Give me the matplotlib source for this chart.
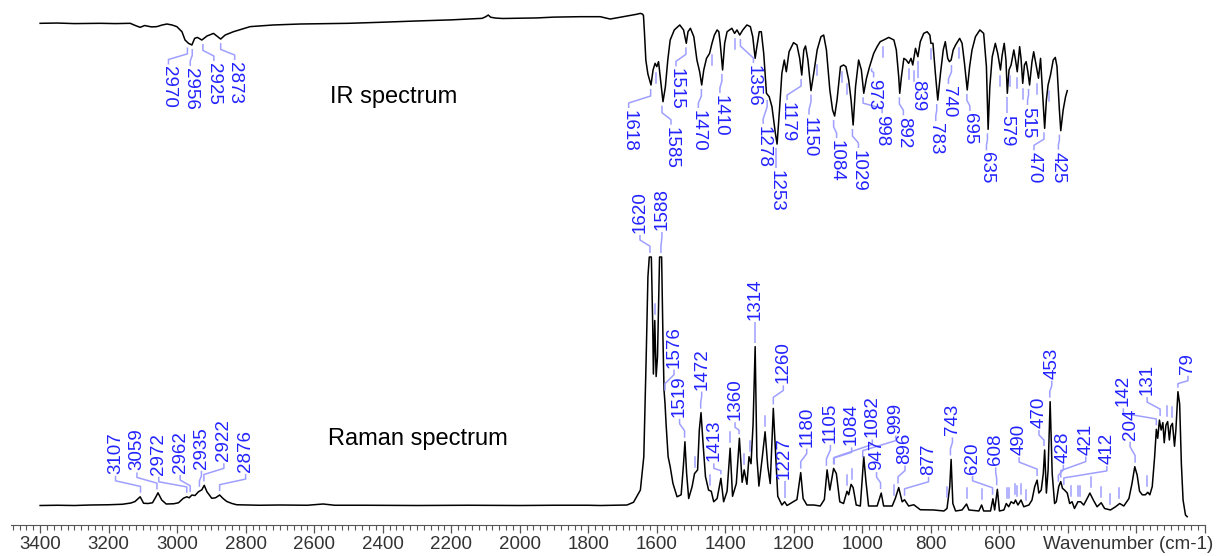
import numpy as np
import matplotlib
matplotlib.use("Agg")
import matplotlib.pyplot as plt
from matplotlib.ticker import MultipleLocator

plt.rcParams['font.family'] = ['Liberation Sans', 'DejaVu Sans']

# ---- IR spectrum (wavenumber, transmittance-like units 0..100) ----
ir_wn = [3400, 3350, 3300, 3225, 3180, 3137, 3120, 3108, 3095, 3089, 3075, 3059, 3045, 3030,
         3015, 3001, 2986, 2977, 2967, 2957, 2949, 2941, 2928, 2913, 2894, 2879, 2873, 2860,
         2836, 2787, 2719, 2641, 2500, 2400, 2300, 2200, 2150, 2110, 2100, 2092, 2085, 2070,
         2050, 1950, 1900, 1823, 1765, 1736, 1700, 1660, 1648, 1642, 1639, 1636, 1632, 1626,
         1617, 1611, 1605, 1600, 1595, 1588, 1582, 1575, 1568, 1561, 1549, 1533, 1522, 1514,
         1509, 1502, 1492, 1483, 1475, 1469, 1463, 1455, 1446, 1439, 1432, 1424, 1419, 1415,
         1408, 1402, 1395, 1381, 1373, 1366, 1358, 1349, 1337, 1327, 1320, 1313, 1308, 1301,
         1295, 1288, 1280, 1272, 1264, 1254, 1249, 1242, 1235, 1228, 1222, 1214, 1201, 1191,
         1183, 1177, 1171, 1166, 1159, 1150, 1142, 1132, 1121, 1113, 1105, 1095, 1087, 1081,
         1074, 1064, 1055, 1048, 1040, 1033, 1027, 1020, 1011, 1003, 996, 988, 979, 967,
         957, 948, 938, 923, 908, 901, 894, 891, 886, 879, 872, 865, 858, 853,
         845, 838, 831, 821, 811, 803, 800, 794, 787, 780, 772, 764, 758, 751,
         746, 741, 735, 728, 722, 716, 709, 702, 694, 687, 680, 670, 657, 646,
         638, 633, 628, 621, 612, 605, 597, 592, 586, 581, 577, 572, 566, 558,
         553, 548, 541, 537, 532, 527, 522, 517, 512, 505, 500, 492, 486, 480,
         474, 468, 463, 458, 451, 443, 437, 432, 425, 421, 414, 407, 402]
ir_t = [91.8, 92.0, 91.6, 91.8, 91.6, 91.8, 90.0, 88.9, 90.2, 89.9, 89.2, 89.4, 90.5, 91.3,
        90.6, 89.4, 85.7, 79.7, 77.3, 76.1, 80.9, 81.6, 79.7, 82.6, 84.5, 81.6, 80.4, 83.3,
        85.7, 89.4, 90.6, 91.3, 91.8, 92.6, 93.5, 94.3, 94.9, 95.4, 96.5, 97.8, 96.2, 95.6,
        95.3, 95.7, 96.3, 96.6, 96.6, 94.9, 96.5, 98.3, 99.0, 98.5, 97.5, 84.5, 65.0, 55.0,
        47.1, 58.0, 62.8, 60.4, 64.0, 48.3, 35.0, 45.9, 65.2, 79.7, 87.0, 90.6, 87.0, 77.3,
        85.7, 88.2, 82.1, 65.2, 56.7, 47.1, 58.0, 66.4, 70.0, 77.3, 83.3, 87.0, 85.7, 77.3,
        58.0, 77.3, 85.7, 88.2, 84.5, 87.0, 83.3, 87.0, 90.6, 89.4, 82.1, 66.4, 74.9, 85.7,
        85.7, 70.0, 41.1, 38.6, 31.4, 12.1, 4.3, 29.0, 55.6, 65.2, 56.7, 71.2, 77.8, 76.1,
        66.4, 54.3, 72.5, 75.4, 65.2, 43.0, 55.6, 72.5, 82.1, 83.3, 72.5, 43.5, 29.0, 24.6,
        36.2, 60.4, 61.6, 60.4, 50.7, 36.2, 18.1, 45.9, 65.2, 58.0, 41.1, 52.0, 60.4, 70.0,
        74.9, 78.5, 79.7, 81.6, 79.7, 72.5, 53.1, 41.1, 53.1, 66.4, 65.2, 62.8, 66.4, 61.6,
        73.7, 67.6, 78.5, 84.5, 85.7, 83.3, 77.3, 77.3, 55.6, 36.2, 55.6, 72.5, 78.5, 66.4,
        64.0, 65.2, 72.5, 76.1, 78.5, 80.9, 77.3, 62.8, 43.5, 60.4, 72.5, 82.1, 87.0, 84.5,
        60.4, 15.0, 45.9, 67.6, 77.3, 70.0, 58.0, 68.8, 77.3, 65.2, 41.1, 58.0, 61.6, 72.5,
        65.2, 56.7, 74.9, 66.4, 48.3, 61.6, 64.0, 56.7, 47.1, 64.0, 71.2, 60.4, 52.0, 66.4,
        41.1, 15.7, 36.2, 47.1, 54.3, 65.2, 67.1, 60.4, 29.0, 14.0, 29.0, 38.6, 43.0]

# ---- Raman spectrum (wavenumber, relative intensity 0..100) ----
raman_wn = [3400, 3350, 3300, 3254, 3200, 3160, 3135, 3123, 3108, 3098, 3085, 3072,
            3062, 3056, 3045, 3032, 3010, 2996, 2982, 2972, 2965, 2957, 2948, 2938, 2928, 2921,
            2913, 2899, 2888, 2876, 2866, 2855, 2840, 2826, 2760, 2700, 2620, 2574, 2540, 2450,
            2300, 2150, 2000, 1900, 1800, 1765, 1687, 1668, 1648, 1638, 1631, 1626, 1622, 1616,
            1612, 1610, 1606, 1602, 1598, 1592, 1586, 1582, 1579, 1576, 1573, 1567, 1561, 1553,
            1541, 1529, 1522, 1518, 1513, 1507, 1497, 1490, 1481, 1476, 1471, 1465, 1458, 1449,
            1441, 1434, 1424, 1413, 1405, 1395, 1386, 1379, 1368, 1359, 1351, 1345, 1337, 1331,
            1325, 1319, 1313, 1308, 1302, 1292, 1284, 1276, 1269, 1260, 1253, 1247, 1235, 1227,
            1220, 1191, 1180, 1173, 1162, 1142, 1123, 1111, 1103, 1095, 1084, 1076, 1066, 1055,
            1045, 1040, 1033, 1027, 1018, 1006, 996, 990, 982, 957, 945, 938, 913, 904,
            894, 884, 877, 865, 850, 831, 792, 762, 753, 745, 741, 736, 728, 709,
            696, 689, 660, 652, 646, 626, 619, 614, 606, 600, 587, 580, 573, 566,
            558, 553, 546, 537, 529, 514, 505, 497, 490, 485, 478, 472, 468, 463,
            458, 452, 446, 439, 434, 427, 421, 416, 410, 402, 395, 388, 381, 371,
            363, 354, 344, 336, 326, 315, 303, 293, 276, 261, 249, 237, 222, 213,
            205, 198, 191, 183, 174, 167, 161, 154, 147, 142, 138, 133, 128, 123,
            119, 114, 109, 104, 100, 95, 89, 85, 79, 74, 69, 64, 57, 52]
raman_i = [0.2, 0.3, 0.2, 0.4, 0.5, 0.7, 1.2, 1.8, 3.7, 1.1, 1.0, 1.3,
           3.7, 5.3, 2.4, 0.8, 0.9, 1.3, 3.1, 3.7, 3.3, 4.4, 4.2, 5.7, 6.5, 8.3,
           5.7, 3.1, 3.3, 4.4, 3.0, 1.8, 1.0, 0.5, 0.3, 0.4, 0.3, 0.8, 0.3, 0.3,
           0.2, 0.3, 0.2, 0.3, 0.3, 0.2, 0.4, 1.5, 6.4, 19.8, 60.0, 92.0, 100.0, 100.0,
           73.0, 53.0, 74.5, 52.0, 60.0, 100.0, 100.0, 66.7, 46.6, 41.0, 33.0, 19.8, 15.8, 9.1,
           3.7, 4.5, 17.0, 25.8, 13.0, 3.0, 7.8, 13.0, 14.5, 30.5, 37.5, 25.0, 11.8, 6.4,
           5.9, 1.7, 3.0, 11.1, 1.7, 5.9, 23.2, 3.9, 9.0, 27.2, 9.5, 14.5, 8.7, 19.8,
           17.0, 33.0, 64.0, 19.8, 8.0, 19.8, 29.8, 15.8, 9.0, 39.2, 19.8, 3.9, 0.4, 1.7,
           0.2, 2.6, 13.4, 3.0, 0.4, 0.4, 0.0, 2.6, 14.5, 6.4, 15.1, 13.0, 1.7, 1.0,
           5.9, 4.5, 8.7, 7.4, 0.4, 0.0, 19.8, 10.4, 0.0, 0.0, 5.2, 0.0, 0.0, 3.0,
           7.4, 1.7, 2.5, 0.0, 0.5, -1.5, -1.6, -2.0, -1.0, 7.8, 18.7, 1.0, -2.0, -1.6,
           0.8, -1.6, -2.0, 0.4, -2.0, -2.0, 2.9, -1.6, 6.7, -2.0, -1.6, 1.0, -0.3, 1.7,
           1.0, 2.4, 0.4, 2.4, -0.3, 0.4, 2.4, 7.8, 10.4, 5.2, 6.4, 13.0, 22.5, 5.2,
           14.3, 41.9, 13.0, 1.0, 1.7, 7.8, 9.8, 7.1, 6.4, 5.2, 1.0, 1.7, -1.0, 1.7,
           1.7, 0.4, 3.0, 5.2, 2.4, -0.3, 1.3, -1.0, -1.6, -0.3, 1.0, 0.0, 3.0, 9.1,
           15.8, 12.4, 5.9, 4.5, 4.5, 5.5, 4.5, 7.8, 19.8, 30.8, 27.2, 34.5, 30.5, 33.5,
           25.4, 32.5, 33.9, 26.5, 32.0, 33.2, 24.0, 30.5, 45.9, 41.0, 17.0, 2.4, -3.6, -4.3]

# ---- peak picks ----
ir_labels = [2970, 2956, 2925, 2873, 1618, 1585, 1515, 1470, 1410, 1356, 1278, 1253, 1179, 1150,
             1084, 1029, 998, 973, 892, 839, 783, 740, 695, 635, 579, 515, 470, 425]
ir_marks = [1601, 1439, 1373, 1132, 1059, 1045, 940, 865, 850, 801, 719, 597, 568, 550, 531, 490, 454]
raman_labels = [3107, 3059, 2972, 2962, 2935, 2922, 2876, 1620, 1588, 1576, 1519, 1472, 1413, 1360,
                1314, 1260, 1227, 1180, 1105, 1084, 1082, 999, 947, 896, 877, 743, 620, 608,
                490, 470, 453, 428, 421, 412, 204, 142, 131, 79]
raman_marks = [1604, 1490, 1444, 1386, 1345, 1329, 1284, 1045, 1030, 909, 753, 696, 651, 578,
               571, 555, 548, 537, 521, 390, 370, 364, 334, 303, 278, 250, 169, 110, 96]

# label layout: horizontal shift (px) and distance from curve (px)
ir_dx = [-19, -2, 11, 14, -22, 9, -10, -3, -2, 13, -4, 0, -14, -2,
         3, 6, 19, 2, 4, 0, -1, -3, 3, -1, 0, -1, -10, -1]
ir_gap = [23, 23, 23, 23, 25, 25, 25, 25, 25, 30, 30, 26, 27, 26,
          24, 25, 22, 15, 24, 23, 23, 25, 23, 23, 22, 22, 24, 21]
raman_dx = [-25, -20, -28, -10, 2, 20, 26, -10, 1, 9, -5, 1, -7, -4,
            0, 10, 0, 6, 4, 18, 38, 33, -4, 7, 24, 2, -20, -1,
            -18, -5, 2, 5, 25, 43, -5, -33, -13, 10]
raman_gap = [23, 23, 22, 23, 22, 24, 23, 24, 27, 27, 25, 23, 17, 18,
             27, 25, 23, 26, 27, 23, 31, 28, 23, 24, 25, 24, 25, 24,
             25, 22, 23, 23, 27, 25, 27, 23, 25, 18]

# ---- figure ----
W, H = 1216, 556
fig = plt.figure(figsize=(W / 100, H / 100), dpi=100)
ax = fig.add_axes([11 / W, 31 / H, 1194 / W, 525 / H])
ax.set_xlim(3485, 0)
ax.set_ylim(0, 525)          # 1 unit = 1 pixel vertically
ppu = 1194 / 3485            # pixels per wavenumber

ir_y = 375 + 1.38 * np.array(ir_t)
ra_y = 19 + 2.49 * np.array(raman_i)
ax.plot(ir_wn, ir_y, color='black', lw=1.1)
ax.plot(raman_wn, ra_y, color='black', lw=1.1)

lead_c = '#9f9fff'
lab_c = '#2222ff'


def curve_at(wn_list, y, w, sign):
    # extreme of the curve near the pick (max for Raman, min for IR)
    order = np.argsort(wn_list)
    xs = np.array(wn_list)[order]
    ys = y[order]
    half = 2 if sign > 0 else 4
    win = np.arange(w - half, w + half + 0.5, 0.5)
    vals = np.interp(win, xs, ys)
    return vals.max() if sign > 0 else vals.min()


def pick(w, y0, dx, gap, sign, text):
    xl = w - dx / ppu
    b = min(11, gap * 0.45)
    ax.plot([w, w, xl, xl],
            [y0 + sign * 4, y0 + sign * b, y0 + sign * (gap - 7), y0 + sign * (gap - 2)],
            color=lead_c, lw=1.1, solid_capstyle='butt')
    ax.text(xl, y0 + sign * gap, text, rotation=90 if sign > 0 else 270,
            ha='center', va='bottom' if sign > 0 else 'top', color=lab_c, fontsize=13.5)


for w, dx, g in zip(ir_labels, ir_dx, ir_gap):
    pick(w, curve_at(ir_wn, ir_y, w, -1), dx, g, -1, str(w))
for w in ir_marks:
    y0 = curve_at(ir_wn, ir_y, w, -1)
    ax.plot([w, w], [y0 - 6, y0 - 16], color=lead_c, lw=1.1)

for w, dx, g in zip(raman_labels, raman_dx, raman_gap):
    pick(w, curve_at(raman_wn, ra_y, w, 1), dx, g, 1, str(w))
for w in raman_marks:
    y0 = curve_at(raman_wn, ra_y, w, 1)
    ax.plot([w, w], [y0 + 6, y0 + 16], color=lead_c, lw=1.1)

ax.text(2553, 428, 'IR spectrum', fontsize=17, va='center', ha='left')
ax.text(2559, 86, 'Raman spectrum', fontsize=17, va='center', ha='left')

# ---- axis styling ----
for s in ['top', 'left', 'right']:
    ax.spines[s].set_visible(False)
ax.spines['bottom'].set_color('#555555')
ax.set_yticks([])
major = np.arange(0, 3401, 200)
ax.set_xticks(major)
ax.set_xticklabels([str(v) if v >= 600 else '' for v in major])
ax.xaxis.set_minor_locator(MultipleLocator(20))
ax.tick_params(axis='x', which='major', direction='out', length=5.8, width=0.9,
               color='#555555', labelsize=13.5, labelcolor='#333333', pad=2)
ax.tick_params(axis='x', which='minor', direction='out', length=3.6, width=0.8, color='#555555')
fig.text(1213 / W, 3 / H, 'Wavenumber (cm-1)', ha='right', va='bottom',
         fontsize=13.5, color='#333333')

fig.savefig('out.png', dpi=100)
